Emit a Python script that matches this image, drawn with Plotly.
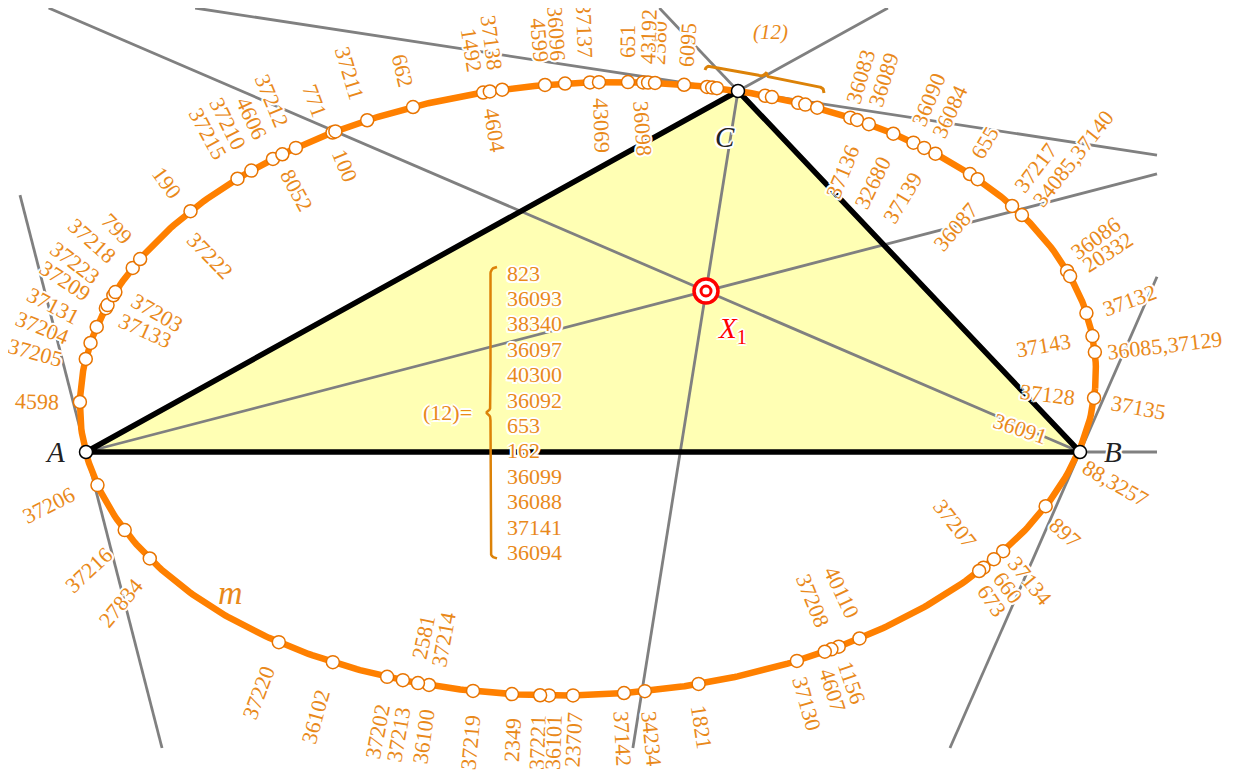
import numpy as np
import plotly.graph_objects as go

# Pixel frame of the drawing (y grows downward).
W, H = 1234, 771
PAGE_PAD = 8                # default body margin of the html page
CLIP = (20, 1157, 8, 748)   # x0, x1, y0, y1 of the clipped line box

ORANGE = "#ff8000"
MARK_EDGE = "#e87400"
LABEL = "#e9891a"
BRACE = "#dc8208"
GRAY = "#808080"
YELLOW = "#ffffb4"
FONT = "Liberation Serif"

# --- data ---
A, B, C = (86, 452), (1080, 452), (738, 91)
X1 = (706, 291)

PTS_X = [86, 91, 97, 105, 107, 112, 115, 133, 140, 190, 238, 252, 273, 282, 296, 332, 335,
         367, 413, 483, 490, 502, 545, 565, 590, 599, 628, 643, 648, 655, 684, 707, 712, 717,
         765, 772, 798, 805, 817, 850, 857, 869, 893, 913, 924, 935, 970, 978, 1012, 1022,
         1067, 1071, 1087, 1093, 1096, 1096, 1041, 1000, 991, 982, 977, 859, 839, 832, 825,
         797, 699, 645, 624, 573, 549, 540, 512, 473, 429, 418, 403, 387, 333, 279, 151, 125,
         98, 80]
PTS_Y = [359, 343, 327, 308, 305, 295, 292, 268, 259, 211, 179, 171, 159, 154, 148, 132, 131,
         120, 107, 92, 92, 89, 85, 83, 83, 82, 82, 83, 83, 83, 85, 87, 88, 88,
         96, 97, 103, 105, 108, 118, 120, 124, 134, 143, 148, 154, 174, 179, 206, 215,
         271, 276, 313, 336, 352, 398, 505, 550, 558, 567, 570, 638, 647, 650, 652,
         661, 685, 692, 693, 696, 696, 696, 694, 691, 685, 683, 680, 677, 662, 642, 558, 530,
         485, 402]

LABEL_TEXT = ["662", "37211", "771", "37212", "4606", "37210", "37215", "190", "100", "8052",
              "799", "37218", "37223", "37209", "37131", "37204", "37205", "4598", "37203",
              "37133", "37222",
              "37206", "37216", "27834", "37220", "36102", "37202", "37213", "36100", "2581",
              "37214", "37219", "2349", "37221", "36101", "23707", "37142", "34234", "1821",
              "37130", "4607", "1156", "37208", "40110", "37207", "673", "660", "37134", "897",
              "88,3257",
              "37135", "36085,37129", "37132", "37143", "37128", "36091", "36086", "20332",
              "37217", "34085,37140", "655", "36090", "36084", "36083", "36089", "37136",
              "32680", "37139", "36087",
              "6095", "2580", "43192", "651", "37137", "36096", "4599", "37138", "1492", "4604",
              "43069", "36098"]
LABEL_X = [403, 350, 315, 272, 252, 228, 208, 167, 345, 297,
           117, 92, 75, 65, 53, 42, 35, 37, 157,
           145, 210,
           48, 88, 120, 258, 315, 377, 398, 423, 423,
           443, 470, 512, 537, 553, 573, 623, 652, 702,
           807, 833, 852, 813, 842, 955, 992, 1008, 1030, 1065,
           1116,
           1138, 1165, 1129, 1043, 1047, 1020, 1095, 1107,
           1035, 1073, 984, 928, 949, 860, 883, 842,
           872, 902, 955,
           687, 658, 648, 627, 585, 557, 540, 492, 472, 495,
           602, 643]
LABEL_Y = [70, 73, 100, 100, 118, 123, 133, 182, 165, 190,
           228, 240, 262, 280, 305, 327, 352, 401, 312,
           330, 255,
           505, 570, 603, 693, 717, 732, 735, 737, 637,
           640, 743, 740, 743, 743, 740, 738, 738, 727,
           703, 690, 682, 600, 592, 523, 600, 587, 580, 532,
           483,
           407, 345, 300, 345, 394, 428, 238, 252,
           168, 158, 143, 100, 112, 77, 80, 172,
           183, 198, 227,
           45, 43, 37, 42, 30, 33, 40, 42, 50, 130,
           125, 128]
# labels whose reading direction is set by a point other than the nearest one
ANGLE_FIX = {"36098": 86, "43069": 88, "37221": -88, "36101": -88, "23707": -87,
             "37142": 87, "37207": 52}

LIST_ITEMS = ["823", "36093", "38340", "36097", "40300", "36092", "653", "162",
              "36099", "36088", "37141", "36094"]

# --- conic through the marked points (normalised frame for conditioning) ---
OX, OY, S = 600.0, 400.0, 500.0


def to_uv(x, y):
    return (np.asarray(x, float) - OX) / S, (np.asarray(y, float) - OY) / S


fu, fv = to_uv(PTS_X + [A[0], B[0], C[0]] * 6, PTS_Y + [A[1], B[1], C[1]] * 6)
M = np.column_stack([fu * fu, fu * fv, fv * fv, fu, fv, np.ones_like(fu)])
ca, cb, cc, cd, ce, cf = np.linalg.svd(M)[2][-1]
uc, vc = np.linalg.solve([[2 * ca, cb], [cb, 2 * cc]], [-cd, -ce])
Fc = ca * uc * uc + cb * uc * vc + cc * vc * vc + cd * uc + ce * vc + cf


def radius(phi):
    q = ca * np.cos(phi) ** 2 + cb * np.cos(phi) * np.sin(phi) + cc * np.sin(phi) ** 2
    return np.sqrt(-Fc / q)


def on_conic(x, y):
    u, v = to_uv(x, y)
    phi = np.arctan2(v - vc, u - uc)
    r = radius(phi)
    return OX + S * (uc + r * np.cos(phi)), OY + S * (vc + r * np.sin(phi))


def grad(x, y):
    u, v = to_uv(x, y)
    return 2 * ca * u + cb * v + cd, cb * u + 2 * cc * v + ce


def normal_angle(x, y):
    gx, gy = grad(x, y)
    ang = float(np.degrees(np.arctan2(gy, gx)))
    while ang > 90:
        ang -= 180
    while ang <= -90:
        ang += 180
    return ang


def clip_span(p, d):
    x0, x1, y0, y1 = CLIP
    tmin, tmax = -np.inf, np.inf
    for pc, dc, lo, hi in ((p[0], d[0], x0, x1), (p[1], d[1], y0, y1)):
        if abs(dc) < 1e-12:
            continue
        ta, tb = (lo - pc) / dc, (hi - pc) / dc
        tmin, tmax = max(tmin, min(ta, tb)), min(tmax, max(ta, tb))
    return tmin, tmax


def segment(p, d, ray):
    t0, t1 = clip_span(p, d)
    if ray:
        t0 = 0.0
    return [p[0] + t0 * d[0], p[0] + t1 * d[0], None], [p[1] + t0 * d[1], p[1] + t1 * d[1], None]


def brace(p0, p1, depth, n=240):
    p0, p1 = np.array(p0, float), np.array(p1, float)
    d = p1 - p0
    L = np.hypot(*d)
    t = d / L
    nrm = np.array([-t[1], t[0]])
    r, h = depth / 2.0, L / 2.0
    s = np.linspace(0, L, n)
    e = np.minimum(s, L - s)
    off = np.where(e < r, np.sqrt(np.clip(r * r - (e - r) ** 2, 0, None)),
                   np.where(e < h - r, r,
                            2 * r - np.sqrt(np.clip(r * r - (e - (h - r)) ** 2, 0, None))))
    pts = p0[None, :] + s[:, None] * t[None, :] + off[:, None] * nrm[None, :]
    return pts[:, 0], pts[:, 1]


HALO = ", ".join(f"white {dx}px {dy}px 0px" for dx, dy in
                 [(2, 0), (-2, 0), (0, 2), (0, -2), (1.5, 1.5), (-1.5, 1.5), (1.5, -1.5), (-1.5, -1.5)])

fig = go.Figure()

# triangle fill
fig.add_scatter(x=[A[0], B[0], C[0], A[0]], y=[A[1], B[1], C[1], A[1]], fill="toself",
                fillcolor=YELLOW, mode="none", hoverinfo="skip")

# grey construction lines
gx, gy = [], []
gA, gB, gC = grad(*A), grad(*B), grad(*C)
for p, q, ray in [(B, C, True), (A, C, True), (A, B, True), (A, X1, True), (B, X1, True),
                  (C, X1, True)]:
    sx, sy = segment(p, (q[0] - p[0], q[1] - p[1]), ray)
    gx += sx
    gy += sy
for p, g in [(A, gA), (B, gB), (C, gC)]:
    sx, sy = segment(p, (-g[1], g[0]), False)
    gx += sx
    gy += sy
fig.add_scatter(x=gx, y=gy, mode="lines", line=dict(color=GRAY, width=2.8), hoverinfo="skip")

# triangle sides
fig.add_scatter(x=[A[0], B[0], C[0], A[0]], y=[A[1], B[1], C[1], A[1]], mode="lines",
                line=dict(color="black", width=5.5), hoverinfo="skip")

# conic m
phi = np.linspace(0, 2 * np.pi, 721)
r = radius(phi)
fig.add_scatter(x=OX + S * (uc + r * np.cos(phi)), y=OY + S * (vc + r * np.sin(phi)),
                mode="lines", line=dict(color=ORANGE, width=6.5), hoverinfo="skip")

px, py = on_conic(PTS_X, PTS_Y)
fig.add_scatter(x=px, y=py, mode="markers",
                marker=dict(size=13, color="white", line=dict(color=MARK_EDGE, width=1.5)),
                hoverinfo="skip")

fig.add_scatter(x=[A[0], B[0], C[0]], y=[A[1], B[1], C[1]], mode="markers",
                marker=dict(size=13, color="white", line=dict(color="black", width=1.5)),
                hoverinfo="skip")

fig.add_scatter(x=[X1[0]], y=[X1[1]], mode="markers",
                marker=dict(size=24, color="white", line=dict(color="red", width=3.5)),
                hoverinfo="skip")
fig.add_scatter(x=[X1[0]], y=[X1[1]], mode="markers",
                marker=dict(size=10, color="white", line=dict(color="red", width=3)),
                hoverinfo="skip")

# braces
list_top, list_step, list_x = 273, 25.4, 505
bx, by = brace((list_x - 8, list_top - 6), (list_x - 8, list_top + list_step * 11 + 6), 13)
fig.add_scatter(x=bx, y=by, mode="lines", line=dict(color=BRACE, width=2.5), hoverinfo="skip")
bx, by = brace((824, 93), (705, 70), 10)
fig.add_scatter(x=bx, y=by, mode="lines", line=dict(color=BRACE, width=3), hoverinfo="skip")

ann = []
for txt, x, y in zip(LABEL_TEXT, LABEL_X, LABEL_Y):
    ang = ANGLE_FIX.get(txt, normal_angle(x, y))
    ann.append(dict(x=x, y=y, text=txt, textangle=ang, showarrow=False,
                    xanchor="center", yanchor="middle",
                    font=dict(family=FONT, size=22, color=LABEL, shadow=HALO)))

for i, txt in enumerate(LIST_ITEMS):
    ann.append(dict(x=list_x, y=list_top + i * list_step, text=txt, showarrow=False,
                    xanchor="left", yanchor="middle",
                    font=dict(family=FONT, size=22, color=LABEL, shadow=HALO)))
ann.append(dict(x=list_x - 58, y=list_top + list_step * 5.5, text="(12)=", showarrow=False,
                xanchor="center", yanchor="middle",
                font=dict(family=FONT, size=22, color=LABEL, shadow=HALO)))
ann.append(dict(x=770, y=32, text="<i>(12)</i>", showarrow=False,
                font=dict(family=FONT, size=21, color=LABEL)))
ann.append(dict(x=230, y=592, text="<i>m</i>", showarrow=False,
                font=dict(family=FONT, size=34, color=LABEL)))

for txt, (x, y) in [("A", (55, 452)), ("B", (1113, 452)), ("C", (725, 137))]:
    ann.append(dict(x=x, y=y, text=f"<i>{txt}</i>", showarrow=False,
                    font=dict(family=FONT, size=29, color="#222222", shadow=HALO)))
ann.append(dict(x=732, y=330, text="<i>X</i><sub>1</sub>", showarrow=False,
                font=dict(family=FONT, size=29, color="red", shadow=HALO)))

fig.update_layout(
    width=W, height=H, margin=dict(l=0, r=0, t=0, b=0),
    paper_bgcolor="white", plot_bgcolor="white", showlegend=False,
    xaxis=dict(range=[PAGE_PAD, W + PAGE_PAD], visible=False),
    yaxis=dict(range=[H + PAGE_PAD, PAGE_PAD], visible=False),
    annotations=ann,
)
fig.write_html("out.html")
